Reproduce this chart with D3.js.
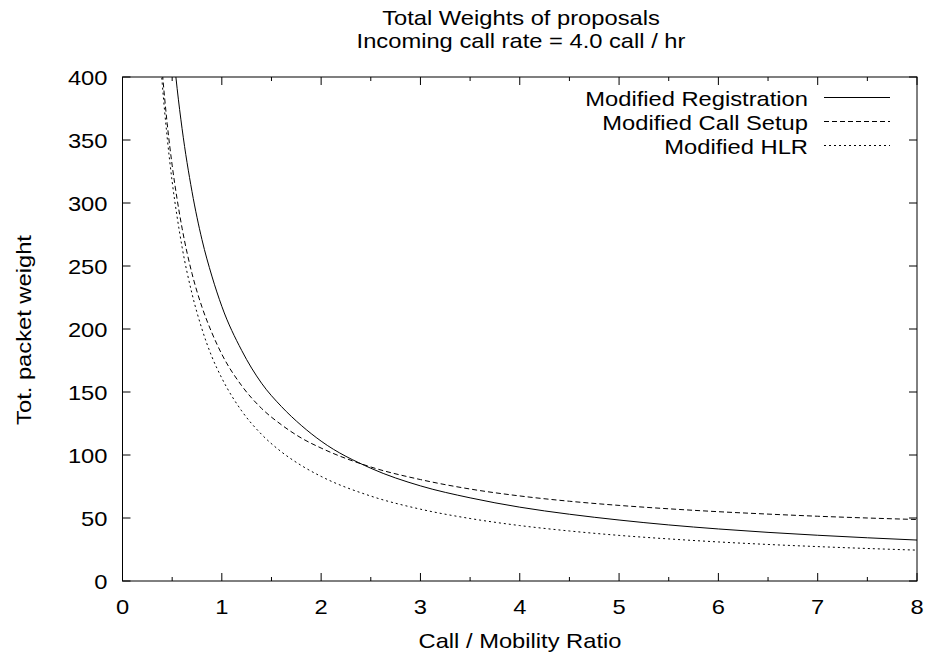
<!DOCTYPE html>
<html>
<head>
<meta charset="utf-8">
<script src="https://cdn.jsdelivr.net/npm/d3@7"></script>
<style>
  body { margin: 0; background: #fff; }
  svg { display: block; font-family: "Liberation Sans", Arial, sans-serif; }
</style>
</head>
<body>
<svg id="chart" width="935" height="658"></svg>
<script>
// Values
const ratio = [0.35, 0.4, 0.45, 0.5, 0.55, 0.6, 0.7, 0.8, 0.9, 1.0, 1.2, 1.4, 1.6, 1.8, 2.0,
               2.5, 3, 3.5, 4, 4.5, 5, 5.5, 6, 6.5, 7, 7.5, 8];
const registration = [612, 536, 477, 430, 391, 359, 309, 271, 242, 218, 183, 157, 138.5, 123.5, 111,
                      89.5, 75.5, 66, 58.6, 53, 48.4, 44.5, 41.3, 38.6, 36.3, 34.3, 32.5];
const callSetup = [459, 405, 363, 330, 303, 280, 244, 217.5, 197, 180, 155, 137, 124, 113.5, 105.5,
                   90.5, 80.5, 73, 67.5, 63.3, 60, 57.3, 55, 53.1, 51.4, 50, 48.8];
const hlr = [451, 395, 352, 317, 289, 265, 228, 200, 178, 161, 135, 116.4, 102.5, 91.7, 83,
             67.4, 57, 49.6, 44, 39.7, 36.2, 33.4, 31, 29, 27.3, 25.8, 24.5];

const seriesNames = ["Modified Registration", "Modified Call Setup", "Modified HLR"];
const dashes = [null, "5,3", "2,3"];
const allSeries = [registration, callSetup, hlr];

const xTicks = [0, 1, 2, 3, 4, 5, 6, 7, 8];
const yTicks = [0, 50, 100, 150, 200, 250, 300, 350, 400];

const svg = d3.select("#chart");
const plotLeft = 122.5, plotRight = 917, plotTop = 77, plotBottom = 581;
const fontSize = 21;
const stretch = 1.13; // the original font is a bit wider than Liberation Sans

const x = d3.scaleLinear().domain([0, 8]).range([plotLeft, plotRight]);
const y = d3.scaleLinear().domain([0, 400]).range([plotBottom, plotTop]);

function label(px, py, str, anchor, rotate) {
  return svg.append("text")
    .attr("transform", `translate(${px},${py})` + (rotate ? ` rotate(${rotate})` : "") + ` scale(${stretch},1)`)
    .attr("text-anchor", anchor).attr("font-size", fontSize)
    .text(str);
}

svg.append("defs").append("clipPath").attr("id", "plot-clip")
  .append("rect").attr("x", plotLeft).attr("y", plotTop)
  .attr("width", plotRight - plotLeft).attr("height", plotBottom - plotTop);

// Ticks on all four sides, pointing inwards
const minorX = d3.range(0.5, 8, 1);
const ticks = svg.append("g").attr("stroke", "#000").attr("stroke-width", 1);
xTicks.forEach(t => {
  ticks.append("line").attr("x1", x(t)).attr("x2", x(t)).attr("y1", plotBottom).attr("y2", plotBottom - 8);
  ticks.append("line").attr("x1", x(t)).attr("x2", x(t)).attr("y1", plotTop).attr("y2", plotTop + 8);
});
minorX.forEach(t => {
  ticks.append("line").attr("x1", x(t)).attr("x2", x(t)).attr("y1", plotBottom).attr("y2", plotBottom - 4);
  ticks.append("line").attr("x1", x(t)).attr("x2", x(t)).attr("y1", plotTop).attr("y2", plotTop + 4);
});
yTicks.forEach(t => {
  ticks.append("line").attr("x1", plotLeft).attr("x2", plotLeft + 8).attr("y1", y(t)).attr("y2", y(t));
  ticks.append("line").attr("x1", plotRight).attr("x2", plotRight - 8).attr("y1", y(t)).attr("y2", y(t));
});

// Tick labels
xTicks.forEach(t => label(x(t), plotBottom + 33, t, "middle"));
yTicks.forEach(t => label(plotLeft - 15, y(t) + 7.5, t, "end"));

// Border
svg.append("rect").attr("x", plotLeft).attr("y", plotTop)
  .attr("width", plotRight - plotLeft).attr("height", plotBottom - plotTop)
  .attr("fill", "none").attr("stroke", "#000").attr("stroke-width", 1);

// Curves
const line = d3.line().x((d, i) => x(ratio[i])).y(d => y(d)).curve(d3.curveMonotoneX);
svg.append("g").attr("clip-path", "url(#plot-clip)")
  .selectAll("path").data(allSeries).join("path")
  .attr("d", d => line(d))
  .attr("fill", "none").attr("stroke", "#000").attr("stroke-width", 1)
  .attr("stroke-dasharray", (d, i) => dashes[i]);

// Legend
seriesNames.forEach((name, i) => {
  const ly = 97.5 + i * 24;
  label(808, ly + 8.5, name, "end");
  svg.append("line").attr("x1", 824).attr("x2", 890).attr("y1", ly).attr("y2", ly)
    .attr("stroke", "#000").attr("stroke-width", 1).attr("stroke-dasharray", dashes[i]);
});

// Titles and axis labels
label(521, 25, "Total Weights of proposals", "middle");
label(521, 48, "Incoming call rate = 4.0 call / hr", "middle");
label(520, 648, "Call / Mobility Ratio", "middle");
label(31, 330, "Tot. packet weight", "middle", -90);
</script>
</body>
</html>
